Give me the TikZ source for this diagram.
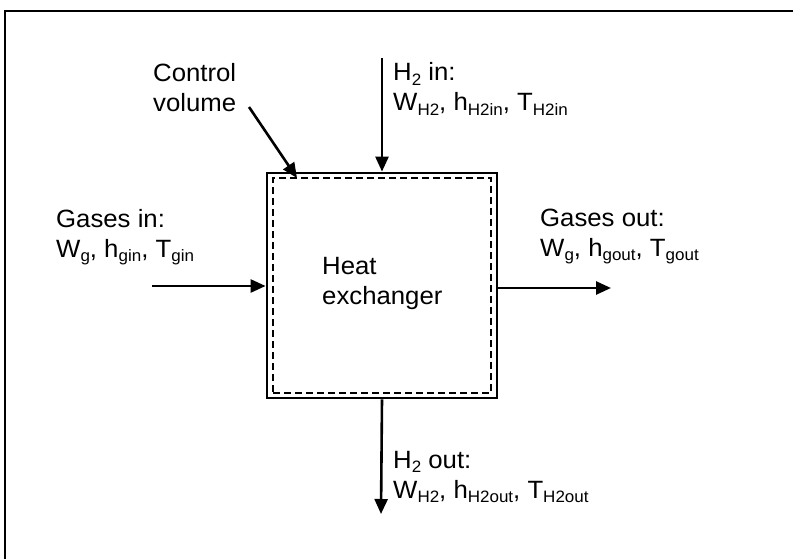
\documentclass[tikz,border=0pt]{standalone}
\usepackage{fontspec}
\setmainfont[FakeStretch=1.03]{Liberation Sans}
\usetikzlibrary{arrows.meta}
\newcommand\sbx[1]{\raisebox{-4.5pt}{\fontsize{16.5}{16.5}\selectfont #1}}
\begin{document}
\begin{tikzpicture}[x=1pt,y=-1pt,
  lbl/.style={anchor=base west,inner sep=0pt,align=left,font=\fontsize{25}{30}\selectfont},
  flow/.style={line width=2.6pt,-{Triangle[length=15pt,width=13pt]}},
  hxbox/.style={draw,line width=2.8pt,minimum width=230pt,minimum height=225pt,inner sep=0pt},
  cvbox/.style={draw,dashed,dash pattern=on 7pt off 4pt,line width=2.4pt,minimum width=218pt,minimum height=215pt,inner sep=0pt},
  frame/.style={line width=2.4pt}]
\useasboundingbox (0,0) rectangle (793,559);
\draw[frame] (5,559) -- (5,11) -- (793,11);
% boxes
\node[hxbox] (hx) at (382,285.5) {};
\node[cvbox] (cv) at (382,285.5) {};
% labels (anchored at the baseline of their last line)
\node[lbl] (hxl) at (322,304) {Heat\\exchanger};
\node[lbl] (cvl) at (153,112) {Control\\volume};
\node[lbl] (h2inl) at (393,111) {H\sbx{2} in:\\W\sbx{H2}, h\sbx{H2in}, T\sbx{H2in}};
\node[lbl] (ginl) at (56,257) {Gases in:\\W\sbx{g}, h\sbx{gin}, T\sbx{gin}};
\node[lbl] (goutl) at (540,256) {Gases out:\\W\sbx{g}, h\sbx{gout}, T\sbx{gout}};
\node[lbl] (h2outl) at (393,498) {H\sbx{2} out:\\W\sbx{H2}, h\sbx{H2out}, T\sbx{H2out}};
% connector ends
\coordinate (h2in) at (382,58);
\coordinate (h2out) at (381,514);
\coordinate (gin) at (152,286);
\coordinate (gout) at (611,288);
\coordinate (cvs) at (249,107);
\coordinate (cvt) at (297,178);
% arrows
\draw[flow] (h2in) -- (hx.north);
\draw[flow] (hx.south) -- (h2out);
\draw[flow] (gin) -- (gin -| hx.west);
\draw[flow] (hx.east |- gout) -- (gout);
\draw[flow] (cvs) -- (cvt);
\end{tikzpicture}
\end{document}
